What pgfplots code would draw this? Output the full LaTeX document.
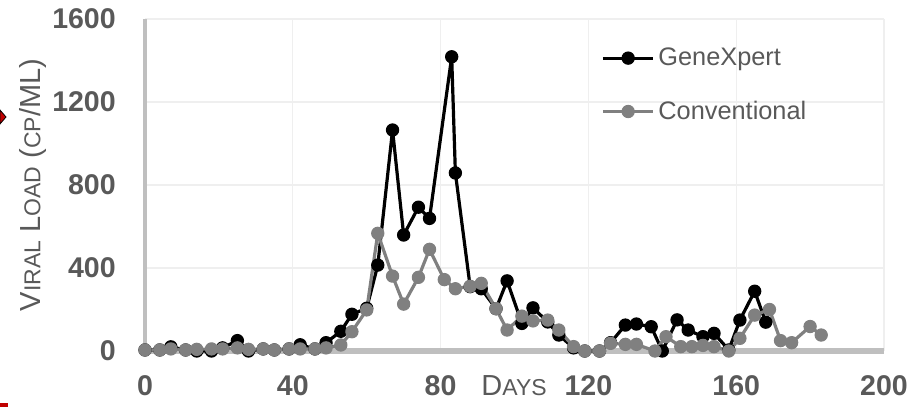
\documentclass[border=0pt]{standalone}
\usepackage{fontspec}
\setmainfont{Liberation Sans}
\usepackage{pgfplots}
\pgfplotsset{compat=1.18}
\definecolor{tg}{HTML}{595959}
\definecolor{axg}{HTML}{BFBFBF}
\definecolor{grd}{HTML}{EFEFEF}
\definecolor{sgray}{HTML}{808080}
\definecolor{dred}{HTML}{C00000}
\newcommand{\Lg}[1]{{\fontsize{21.75pt}{24pt}\selectfont #1}}
\newcommand{\Sm}[1]{{\fontsize{17.25pt}{20pt}\selectfont #1}}
\begin{document}
\begin{tikzpicture}
\useasboundingbox (-108.75pt,-42pt) rectangle (576.75pt,263.25pt);
\begin{axis}[
  at={(0pt,0pt)}, anchor=origin,
  scale only axis, width=554.25pt, height=249pt,
  xmin=0, xmax=200, ymin=0, ymax=1600,
  xtick={0,40,...,200}, ytick={0,400,...,1600},
  clip=false,
  axis lines=left,
  x axis line style={-, axg, line width=4pt},
  y axis line style={-, axg, line width=3pt},
  grid=major, major grid style={grd, line width=1pt},
  major tick length=0pt,
  /pgf/number format/assume math mode=true,
  /pgf/number format/1000 sep={},
  ticklabel style={font=\fontsize{21.4pt}{24pt}\selectfont\bfseries, text=tg},
  xticklabel style={anchor=base, yshift=-33pt, inner sep=0pt},
  yticklabel style={anchor=east, inner sep=0pt, xshift=-21.75pt},
  xlabel={\Lg{D}\Sm{AYS}},
  xlabel style={at={(axis description cs:0.4995,0)}, anchor=base, yshift=-33pt, inner sep=0pt, text=tg},
  ylabel={\Lg{V}\Sm{IRAL}\Lg{ L}\Sm{OAD}\Lg{ (}\Sm{CP}\Lg{/ML)}},
  ylabel style={at={(axis description cs:-0.1516,0.5)}, anchor=center, inner sep=0pt, text=tg},
  legend image code/.code={\draw[mark repeat=2,mark phase=2,#1] plot coordinates {(0pt,0pt) (19pt,0pt) (38pt,0pt)};},
  legend cell align=left,
  legend style={draw=none, fill=none, at={(axis cs:123.4,1282)}, anchor=west, inner sep=0pt, row sep=20pt, font=\fontsize{19pt}{22pt}\selectfont, text=tg, nodes={inner sep=2.5pt}},
  every axis plot/.append style={line width=2.4pt, line join=round, mark=*, mark size=4.6pt, mark options={line width=0.8pt}},
]
\addplot[black] coordinates {
(0,5) (4,5) (7,20) (11,5) (14,0) (18,0) (21,15) (25,50) (28,0) (32,10) (35,5) (39,10) (42,30) (46,10) (49,40)
(53,95) (56,177) (60,206) (63,414) (67,1065) (70,559) (74,693) (77,639) (83,1418) (84,858) (88,310) (91,300)
(95,204) (98,338) (102,133) (105,208) (109,140) (112,77) (116,15) (119,0) (123,0) (126,40) (130,125) (133,130)
(137,117) (140,0) (144,150) (147,101) (151,69) (154,85) (158,5) (161,149) (165,288) (168,139)
};
\addlegendentry{GeneXpert}
\addplot[sgray] coordinates {
(0,5) (4,5) (7,10) (11,5) (14,8) (18,10) (21,10) (25,15) (28,8) (32,10) (35,5) (39,10) (42,10) (46,10) (49,15)
(53,29) (56,93) (60,198) (63,567) (67,361) (70,226) (74,355) (77,490) (81,344) (84,300) (88,312) (91,326)
(95,204) (98,101) (102,168) (105,145) (109,149) (112,101) (116,21) (119,0) (123,0) (126,37) (130,32) (133,32)
(138,0) (141,69) (145,21) (148,21) (151,27) (154,21) (158,0) (161,61) (165,173) (169,200) (172,50) (175,40)
(180,118) (183,77)
};
\addlegendentry{Conventional}
\end{axis}
\fill[dred, draw=black, line width=0.6pt] (-108.75pt,180.75pt) -- (-104.25pt,175.5pt) -- (-108.75pt,170.25pt) -- cycle;
\fill[dred] (-108.75pt,-39pt) rectangle (-102.75pt,-42pt);
\end{tikzpicture}
\end{document}
